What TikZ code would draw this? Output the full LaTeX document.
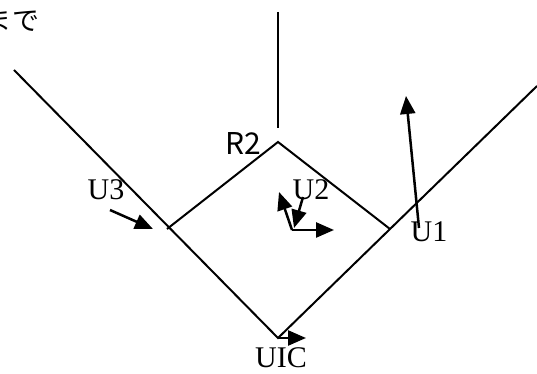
\documentclass[tikz,border=0pt]{standalone}
\usepackage{fontspec}
\setmainfont{Liberation Serif}
\newfontfamily\cjk{Noto Sans CJK JP}
\usetikzlibrary{arrows.meta}
\tikzset{
  vec/.style={line width=2.5pt,-{Triangle[length=18pt,width=15pt]}},
  lbl/.style={font=\fontsize{30}{30}\selectfont,inner sep=0pt},
}
\begin{document}
\begin{tikzpicture}[line width=2pt]
				\useasboundingbox (0,0) rectangle (537pt,374pt);
				\coordinate (A) at (14pt,304pt);
				\coordinate (B) at (278pt,36pt);
				\coordinate (C) at (537pt,288pt);
				\coordinate (L) at (167pt,145pt);
				\coordinate (T) at (278pt,232pt);
				\coordinate (R) at (390pt,145pt);
				\coordinate (P1) at (278pt,362pt);
				\coordinate (P2) at (278pt,246pt);
				\draw (A)--(B)--(C);
				\draw (L)--(T)--(R);
				\draw (P1)--(P2);
				% vectors
				\coordinate (U3a) at (110pt,164pt);
				\coordinate (U3b) at (153pt,145pt);
				\coordinate (O) at (292pt,144pt);
				\coordinate (U2up) at (279pt,182pt);
				\coordinate (U2r) at (334pt,144pt);
				\coordinate (U2a) at (303pt,177pt);
				\coordinate (U2b) at (294pt,146pt);
				\coordinate (U1a) at (419pt,146pt);
				\coordinate (U1b) at (406pt,278pt);
				\coordinate (UICb) at (306pt,36pt);
				\draw[vec] (U3a)--(U3b);
				\draw[vec] (O)--(U2up);
				\draw[vec] (O)--(U2r);
				\draw[vec] (U2a)--(U2b);
				\draw[vec] (U1a)--(U1b);
				\draw[vec] (B)--(UICb);
				% labels
				\node[lbl] (r2) at (243pt,230pt) {\cjk R2};
				\node[lbl] (u3) at (106pt,184pt) {U3};
				\node[lbl] (u2) at (311pt,184pt) {U2};
				\node[lbl] (u1) at (429pt,142pt) {U1};
				\node[lbl] (uic) at (281pt,16pt) {UIC};
				\node[lbl,font=\fontsize{27}{27}\selectfont,anchor=east] (made) at (40pt,354pt) {\cjk まで};
			\end{tikzpicture}
\end{document}
